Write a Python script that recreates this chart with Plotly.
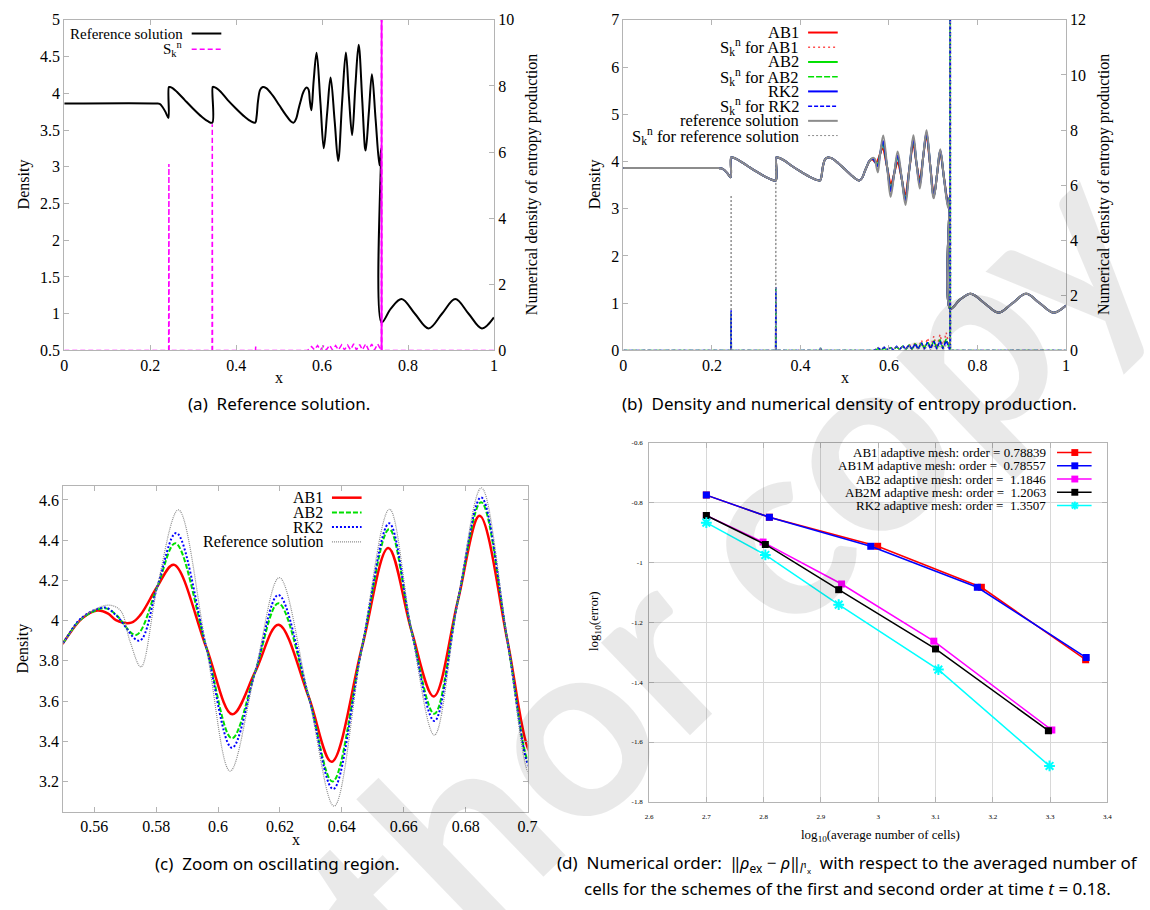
import plotly.graph_objects as go

FIG_W, FIG_H = 1150, 910


def px(x):
    return x / FIG_W


def py(y):
    return 1 - y / FIG_H


# ---------------------------------------------------------------------------
# Density profiles rho(x) at t = 0.18
# ---------------------------------------------------------------------------
# part left of the oscillating zone (all schemes coincide with the reference)
x_left = [0.0, 0.215, 0.222, 0.229, 0.236, 0.2425,
          0.2435, 0.246, 0.252, 0.262, 0.28, 0.30, 0.32, 0.334, 0.3445,
          0.3455, 0.348, 0.354, 0.364, 0.38, 0.40, 0.42, 0.434, 0.4445,
          0.4475, 0.451, 0.456, 0.462, 0.470, 0.485, 0.50, 0.515, 0.527, 0.534,
          0.540, 0.545]
rho_left = [3.86, 3.86, 3.855, 3.81, 3.74, 3.665,
            4.085, 4.085, 4.07, 4.02, 3.91, 3.79, 3.68, 3.62, 3.60,
            4.085, 4.085, 4.07, 4.02, 3.91, 3.79, 3.68, 3.62, 3.60,
            3.68, 3.90, 4.05, 4.085, 4.07, 3.97, 3.84, 3.71, 3.62, 3.60,
            3.66, 3.78]

# oscillating zone up to the shock
x_osc_ref = [0.55, 0.557, 0.5645, 0.5685, 0.5715, 0.5751, 0.5804, 0.5872, 0.5962,
             0.6039, 0.612, 0.6198, 0.6293, 0.6375, 0.6465, 0.6554, 0.6625, 0.6699,
             0.6775, 0.6851, 0.6935, 0.70, 0.7015, 0.709, 0.716, 0.7245, 0.7335,
             0.7355, 0.7375]
rho_osc_ref = [3.89, 4.025, 4.077, 4.05, 3.90, 3.77, 4.17, 4.551, 3.867,
               3.252, 3.745, 4.214, 3.62, 3.078, 3.867, 4.554, 3.95, 3.431,
               4.10, 4.66, 3.90, 3.25, 3.22, 3.75, 4.26, 3.65, 3.02,
               3.10, 3.25]

x_osc_ab1 = [0.55, 0.556, 0.561, 0.5645, 0.567, 0.572, 0.575, 0.5804, 0.5857, 0.5962,
             0.6046, 0.612, 0.6195, 0.6293, 0.6367, 0.6465, 0.655, 0.6625, 0.6697,
             0.6775, 0.6845, 0.6935, 0.70, 0.7025, 0.709, 0.716, 0.7245, 0.734,
             0.7360, 0.7375]
rho_osc_ab1 = [3.89, 4.01, 4.05, 4.035, 4.003, 3.99, 4.03, 4.17, 4.278, 3.867,
               3.534, 3.745, 3.98, 3.62, 3.298, 3.867, 4.361, 3.95, 3.623,
               4.10, 4.522, 3.90, 3.37, 3.31, 3.74, 4.17, 3.66, 3.10,
               3.15, 3.25]

x_osc_ab2 = [0.55, 0.556, 0.5635, 0.567, 0.5735, 0.5804, 0.5862, 0.5962,
             0.6045, 0.612, 0.6195, 0.6293, 0.637, 0.6465, 0.6553, 0.6625, 0.6699,
             0.6775, 0.685, 0.6935, 0.70, 0.7018, 0.709, 0.716, 0.7245, 0.734,
             0.7358, 0.7375]
rho_osc_ab2 = [3.89, 4.01, 4.062, 4.03, 3.929, 4.17, 4.385, 3.867,
               3.415, 3.745, 4.086, 3.62, 3.20, 3.867, 4.455, 3.95, 3.537,
               4.10, 4.589, 3.90, 3.306, 3.27, 3.75, 4.22, 3.65, 3.06,
               3.12, 3.25]

x_osc_rk2 = [0.55, 0.556, 0.5635, 0.5675, 0.5746, 0.5804, 0.5865, 0.5962,
             0.6045, 0.612, 0.6195, 0.6293, 0.6372, 0.6465, 0.6553, 0.6625, 0.6699,
             0.6775, 0.685, 0.6935, 0.70, 0.7016, 0.709, 0.716, 0.7245, 0.734,
             0.7357, 0.7375]
rho_osc_rk2 = [3.89, 4.015, 4.065, 4.02, 3.90, 4.17, 4.436, 3.867,
               3.368, 3.745, 4.128, 3.62, 3.163, 3.867, 4.484, 3.95, 3.501,
               4.10, 4.613, 3.90, 3.29, 3.255, 3.75, 4.24, 3.65, 3.04,
               3.11, 3.25]

# behind the shock (identical for every scheme)
x_right = [0.7385, 0.76, 0.785, 0.816, 0.848, 0.879, 0.91, 0.941, 0.972, 1.0]
rho_right = [0.88, 1.07, 1.20, 1.00, 0.80, 1.00, 1.20, 1.00, 0.80, 0.95]

# ---------------------------------------------------------------------------
# Numerical density of entropy production S_k^n
# ---------------------------------------------------------------------------
s_x = [0.0, 0.2430, 0.2435, 0.2440, 0.3440, 0.3445, 0.3450, 0.4450, 0.4455, 0.4460,
       0.566, 0.5755, 0.582, 0.5895, 0.596, 0.6035, 0.610, 0.6175, 0.624, 0.6315,
       0.638, 0.6455, 0.652, 0.6595, 0.666, 0.6735, 0.680, 0.6875, 0.694, 0.7015,
       0.708, 0.7155, 0.722, 0.7295, 0.7365,
       0.7380, 0.7385, 0.7390, 1.0]
s_ref = [0, 0, 5.64, 0, 0, 6.84, 0, 0, 0.12, 0,
         0.0,
         0.12, 0.02, 0.15, 0.02, 0.13, 0.02, 0.16, 0.02, 0.15, 0.02, 0.17, 0.02,
         0.16, 0.02, 0.20, 0.02, 0.18, 0.02, 0.20, 0.02, 0.19, 0.02, 0.20, 0.02,
         0, 40, 0, 0]
s_ab1 = [0, 0, 1.20, 0, 0, 2.00, 0, 0, 0.08, 0,
         0.0,
         0.08, 0.02, 0.10, 0.02, 0.12, 0.03, 0.15, 0.03, 0.18, 0.04, 0.24, 0.05,
         0.30, 0.06, 0.38, 0.08, 0.45, 0.09, 0.52, 0.10, 0.58, 0.12, 0.65, 0.12,
         0, 40, 0, 0]
s_ab2 = [0, 0, 1.40, 0, 0, 2.25, 0, 0, 0.10, 0,
         0.0,
         0.06, 0.02, 0.08, 0.02, 0.10, 0.02, 0.13, 0.03, 0.16, 0.03, 0.20, 0.04,
         0.25, 0.05, 0.30, 0.06, 0.33, 0.06, 0.37, 0.07, 0.40, 0.08, 0.42, 0.08,
         0, 40, 0, 0]
s_rk2 = [0, 0, 1.46, 0, 0, 2.30, 0, 0, 0.13, 0,
         0.0,
         0.10, 0.02, 0.12, 0.02, 0.13, 0.02, 0.15, 0.03, 0.18, 0.03, 0.21, 0.04,
         0.25, 0.04, 0.28, 0.05, 0.30, 0.05, 0.33, 0.06, 0.35, 0.06, 0.36, 0.06,
         0, 40, 0, 0]
SHOCK = slice(35, 38)   # samples forming the spike at the shock

# ---------------------------------------------------------------------------
# Convergence study: log10(average number of cells) vs log10(L1 error)
# ---------------------------------------------------------------------------
cells_ab1 = [2.700, 2.810, 2.999, 3.180, 3.362]
err_ab1 = [-0.775, -0.849, -0.946, -1.083, -1.325]
cells_ab1m = [2.700, 2.810, 2.987, 3.173, 3.363]
err_ab1m = [-0.775, -0.849, -0.946, -1.083, -1.318]
cells_ab2 = [2.700, 2.799, 2.936, 3.097, 3.303]
err_ab2 = [-0.843, -0.932, -1.072, -1.263, -1.560]
cells_ab2m = [2.700, 2.803, 2.931, 3.100, 3.297]
err_ab2m = [-0.843, -0.940, -1.091, -1.289, -1.562]
cells_rk2 = [2.700, 2.803, 2.931, 3.105, 3.299]
err_rk2 = [-0.867, -0.975, -1.141, -1.358, -1.680]

order_labels = ["AB1 adaptive mesh: order = 0.78839",
                "AB1M adaptive mesh: order =  0.78557",
                "AB2 adaptive mesh: order =  1.1846",
                "AB2M adaptive mesh: order =  1.2063",
                "RK2 adaptive mesh: order =  1.3507"]

# ---------------------------------------------------------------------------
SERIF = "Liberation Serif"
SANS = "Noto Sans"
RED, GREEN, BLUE, GREY = "#ff0000", "#00e000", "#0000ff", "#8c8c8c"
MAGENTA, CYAN, BLACK = "#ff00ff", "#00ffff", "#000000"

x_ref = x_left + x_osc_ref + x_right
y_ref = rho_left + rho_osc_ref + rho_right
x_ab1 = x_left + x_osc_ab1 + x_right
y_ab1 = rho_left + rho_osc_ab1 + rho_right
x_ab2 = x_left + x_osc_ab2 + x_right
y_ab2 = rho_left + rho_osc_ab2 + rho_right
x_rk2 = x_left + x_osc_rk2 + x_right
y_rk2 = rho_left + rho_osc_rk2 + rho_right

fig = go.Figure()


def curve(x, y, xa, ya, color, width, dash="solid", smooth=True):
    fig.add_trace(go.Scatter(
        x=x, y=y, xaxis=xa, yaxis=ya, mode="lines", showlegend=False,
        hoverinfo="skip",
        line=dict(color=color, width=width, dash=dash,
                  shape="spline" if smooth else "linear", smoothing=1.0)))


# (a) reference solution + entropy production
curve(x_ref, y_ref, "x", "y", BLACK, 2)
curve(s_x, s_ref, "x", "y2", MAGENTA, 1.5, "5px,3px", smooth=False)
curve(s_x[SHOCK], s_ref[SHOCK], "x", "y2", MAGENTA, 1.5, smooth=False)

# (b) schemes + entropy production
curve(x_ab1, y_ab1, "x2", "y3", RED, 2)
curve(s_x, s_ab1, "x2", "y4", "#ff5050", 1.5, "2px,3px", smooth=False)
curve(x_ab2, y_ab2, "x2", "y3", GREEN, 2)
curve(s_x, s_ab2, "x2", "y4", GREEN, 1.5, "6px,2px", smooth=False)
curve(x_rk2, y_rk2, "x2", "y3", BLUE, 2)
curve(s_x, s_rk2, "x2", "y4", BLUE, 1.5, "4px,2px", smooth=False)
curve(x_ref, y_ref, "x2", "y3", GREY, 2)
curve(s_x, s_ref, "x2", "y4", GREY, 1, "2px,2px", smooth=False)

# (c) zoom on the oscillating zone
curve(x_ab1, y_ab1, "x3", "y5", RED, 2.5)
curve(x_ab2, y_ab2, "x3", "y5", GREEN, 2, "5px,2px")
curve(x_rk2, y_rk2, "x3", "y5", BLUE, 2, "2px,2px")
curve(x_ref, y_ref, "x3", "y5", GREY, 1.2, "1px,1px")

# (d) numerical order
for cx, ce, col, sym in [(cells_ab1, err_ab1, RED, "square"),
                         (cells_ab1m, err_ab1m, BLUE, "square"),
                         (cells_ab2, err_ab2, MAGENTA, "square"),
                         (cells_ab2m, err_ab2m, BLACK, "square"),
                         (cells_rk2, err_rk2, CYAN, "asterisk-open")]:
    fig.add_trace(go.Scatter(
        x=cx, y=ce, xaxis="x4", yaxis="y6", mode="lines+markers",
        showlegend=False, hoverinfo="skip",
        line=dict(color=col, width=1.5),
        marker=dict(symbol=sym, size=7 if sym == "square" else 9, color=col,
                    line=dict(color=col, width=2 if sym != "square" else 0))))

# ---------------------------------------------------------------------------
AXC = "#b4b4b4"
tick_font = dict(family=SERIF, size=16, color="black")


def ax(domain, rng, **kw):
    d = dict(domain=domain, range=rng, showline=True, linecolor=AXC, linewidth=1,
             ticks="inside", ticklen=5, tickcolor=AXC, showgrid=False,
             zeroline=False, tickfont=tick_font)
    d.update(kw)
    return d


dom_ax = [px(61), px(496)]
dom_bx = [px(627), px(1075)]
dom_top = [py(349), py(12)]
dom_cx = [px(60), px(530)]
dom_cy = [py(819), py(487)]
dom_dx = [px(653), px(1117)]
dom_dy = [py(809), py(443)]

d_xt = [2.6, 2.7, 2.8, 2.9, 3.0, 3.1, 3.2, 3.3, 3.4]
d_yt = [-1.8, -1.6, -1.4, -1.2, -1.0, -0.8, -0.6]

fig.update_layout(
    width=FIG_W, height=FIG_H, margin=dict(l=0, r=0, t=0, b=0),
    paper_bgcolor="white", plot_bgcolor="white", showlegend=False,
    xaxis=ax(dom_ax, [0, 1], anchor="y", dtick=0.2, tick0=0, mirror="ticks"),
    yaxis=ax(dom_top, [0.5, 5], anchor="x", dtick=0.5, tick0=0.5),
    yaxis2=ax(dom_top, [0, 10], anchor="x", overlaying="y", side="right", dtick=2),
    xaxis2=ax(dom_bx, [0, 1], anchor="y3", dtick=0.2, tick0=0, mirror="ticks"),
    yaxis3=ax(dom_top, [0, 7], anchor="x2", dtick=1),
    yaxis4=ax(dom_top, [0, 12], anchor="x2", overlaying="y3", side="right", dtick=2),
    xaxis3=ax(dom_cx, [0.55, 0.7], anchor="y5", dtick=0.02, tick0=0.56, mirror="ticks"),
    yaxis5=ax(dom_cy, [3.05, 4.67], anchor="x3", dtick=0.2, tick0=3.2, mirror="ticks"),
    xaxis4=ax(dom_dx, [2.6, 3.4], anchor="y6", mirror="ticks", showgrid=True,
              gridcolor="#d8d8d8", tickvals=d_xt, ticklabelstandoff=8,
              ticktext=["2.6", "2.7", "2.8", "2.9", "3", "3.1", "3.2", "3.3", "3.4"],
              tickfont=dict(family=SERIF, size=7, color="black")),
    yaxis6=ax(dom_dy, [-1.8, -0.6], anchor="x4", mirror="ticks", showgrid=True,
              gridcolor="#d8d8d8", tickvals=d_yt, ticklabelstandoff=4,
              ticktext=["-1.8", "-1.6", "-1.4", "-1.2", "-1", "-0.8", "-0.6"],
              tickfont=dict(family=SERIF, size=7, color="black")),
)

ann = []
shapes = []


def text(t, x, y, size, family=SERIF, angle=0, xanchor="center", color="black"):
    ann.append(dict(text=t, x=px(x), y=py(y), xref="paper", yref="paper",
                    showarrow=False, xanchor=xanchor, yanchor="middle",
                    textangle=angle, font=dict(family=family, size=size, color=color)))


# axis titles
text("Density", 20, 180, 16, angle=-90)
text("x", 278, 377, 16)
text("Numerical density of entropy production", 534, 180, 16, angle=-90)
text("Density", 598, 180, 16, angle=-90)
text("x", 851, 377, 16)
text("Numerical density of entropy production", 1113, 180, 16, angle=-90)
text("Density", 19, 653, 16, angle=-90)
text("x", 296, 847, 16)
text("log<sub>10</sub>(error)", 598, 625, 13, angle=-90)
text("log<sub>10</sub>(average number of cells)", 887, 843, 13)

# captions
CAP = 17
text("(a)  Reference solution.", 278, 403, CAP, family=SANS)
text("(b)  Density and numerical density of entropy production.", 856, 403, CAP, family=SANS)
text("(c)  Zoom on oscillating region.", 277, 872, CAP, family=SANS)
text("(d)  Numerical order:  ‖<i>ρ</i><sub>ex</sub> − <i>ρ</i>‖<sub><i>l</i>¹ₓ</sub>  with respect to "
     "the averaged number of", 854, 872, CAP, family=SANS)
text("cells for the schemes of the first and second order at time <i>t</i> = 0.18.",
     854, 897, CAP, family=SANS)


def key(label, xr, yr, x0, x1, color, width, dash, size):
    text(label, xr, yr, size, xanchor="right")
    shapes.append(dict(type="line", xref="paper", yref="paper",
                       x0=px(x0), x1=px(x1), y0=py(yr), y1=py(yr),
                       line=dict(color=color, width=width, dash=dash)))


SK = "S<sub>k</sub><sup>n</sup>"
# legend (a)
key("Reference solution", 183, 26, 190, 220, BLACK, 2, "solid", 15)
key(SK, 183, 42, 190, 220, MAGENTA, 1.5, "5px,3px", 15)
# legend (b)
rows_b = [("AB1", RED, 2, "solid"), (SK + " for AB1", "#ff5050", 1.5, "2px,3px"),
          ("AB2", GREEN, 2, "solid"), (SK + " for AB2", GREEN, 1.5, "6px,2px"),
          ("RK2", BLUE, 2, "solid"), (SK + " for RK2", BLUE, 1.5, "4px,2px"),
          ("reference solution", GREY, 2, "solid"),
          (SK + " for reference solution", GREY, 1, "2px,2px")]
for i, (lab, col, w, ds) in enumerate(rows_b):
    key(lab, 807, 25 + 15 * i, 814, 844, col, w, ds, 16.5)
# legend (c)
rows_c = [("AB1", RED, 2.5, "solid"), ("AB2", GREEN, 2, "5px,2px"),
          ("RK2", BLUE, 2, "2px,2px"), ("Reference solution", GREY, 1.2, "1px,1px")]
for i, (lab, col, w, ds) in enumerate(rows_c):
    key(lab, 325, 499 + 15 * i, 332, 362, col, w, ds, 16)
# legend (d)
d_cols = [RED, BLUE, MAGENTA, BLACK, CYAN]
for i, (lab, col) in enumerate(zip(order_labels, d_cols)):
    yy = 453 + 13.5 * i
    key(lab, 1057, yy, 1066, 1101, col, 1.5, "solid", 13)
    if i < 4:
        shapes.append(dict(type="rect", xref="paper", yref="paper",
                           x0=px(1080.5), x1=px(1087.5), y0=py(yy + 3.5), y1=py(yy - 3.5),
                           fillcolor=col, line=dict(width=0)))
    else:
        for (a, b, c, d) in [(-4, 0, 4, 0), (0, -4, 0, 4), (-3, -3, 3, 3), (-3, 3, 3, -3)]:
            shapes.append(dict(type="line", xref="paper", yref="paper",
                               x0=px(1084 + a), x1=px(1084 + c),
                               y0=py(yy + b), y1=py(yy + d),
                               line=dict(color=col, width=2)))

# watermark
ann.append(dict(text="Author copy", x=px(611), y=py(685), xref="paper", yref="paper",
                showarrow=False, textangle=-44, xanchor="center", yanchor="middle",
                font=dict(family="Lato", size=250, color="rgba(0,0,0,0.085)", weight=700)))

fig.update_layout(annotations=ann, shapes=shapes)
fig.write_html("out.html")
